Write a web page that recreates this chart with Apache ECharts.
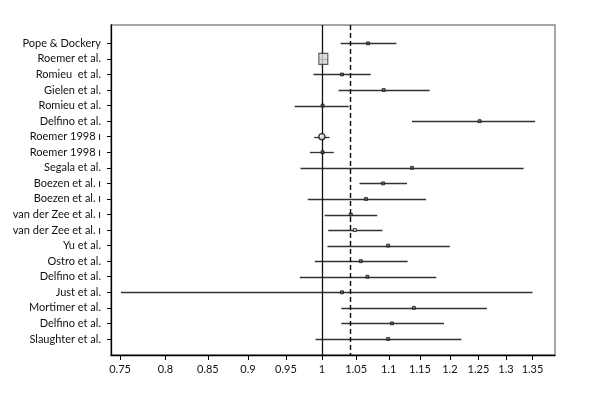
<!DOCTYPE html>
<html>
<head>
<meta charset="utf-8">
<script src="https://cdn.jsdelivr.net/npm/echarts@6/dist/echarts.min.js"></script>
<style>html,body{margin:0;padding:0;background:#fff}#c{width:594px;height:404px}</style>
</head>
<body>
<div id="c"></div>
<script>
// ---- data ----
const studies = ['Pope & Dockery','Roemer et al.','Romieu  et al.','Gielen et al.','Romieu et al.','Delfino et al.','Roemer 1998 ı','Roemer 1998 ı','Segala et al.','Boezen et al. ı','Boezen et al. ı','van der Zee et al. ı','van der Zee et al. ı','Yu et al.','Ostro et al.','Delfino et al.','Just et al.','Mortimer et al.','Delfino et al.','Slaughter et al.'];
const estimate = [1.068, 1.002, 1.029, 1.092, 1.001, 1.252, 1.000, 1.001, 1.137, 1.091, 1.065, 1.042, 1.048, 1.099, 1.057, 1.067, 1.029, 1.140, 1.105, 1.099];
const lower    = [1.027, 0.996, 0.988, 1.024, 0.962, 1.137, 0.989, 0.983, 0.970, 1.055, 0.980, 1.004, 1.009, 1.008, 0.990, 0.969, 0.751, 1.028, 1.028, 0.991];
const upper    = [1.112, 1.009, 1.072, 1.166, 1.039, 1.355, 1.011, 1.017, 1.333, 1.129, 1.160, 1.082, 1.090, 1.200, 1.130, 1.177, 1.350, 1.265, 1.190, 1.220];
const pooled = 1.045;
const nullValue = 1;
const tickValues = [0.75, 0.8, 0.85, 0.9, 0.95, 1, 1.05, 1.1, 1.15, 1.2, 1.25, 1.3, 1.35];
const tickLabels = ['0.75','0.8','0.85','0.9','0.95','1','1.05','1.1','1.15','1.2','1.25','1.3','1.35'];
const xRange = [0.7404, 1.394];

// ---- chart ----
const L = Math.log;
const font = 'Lato, "Open Sans", sans-serif';
const special = {1: 'box', 6: 'circle', 12: 'open'};
const ciData = studies.map((s, i) => [L(lower[i]), L(upper[i]), i]);
const ptData = [], boxData = [], circData = [], openData = [];
studies.forEach((s, i) => {
  const d = [L(estimate[i]), i];
  if (special[i] === 'box') boxData.push(d);
  else if (special[i] === 'circle') circData.push(d);
  else if (special[i] === 'open') openData.push(d);
  else ptData.push(d);
});

const chart = echarts.init(document.getElementById('c'), null, {renderer: 'canvas'});
chart.setOption({
  animation: false,
  backgroundColor: '#fff',
  grid: {left: 111, right: 39, top: 25, bottom: 49, show: true, borderColor: '#8a8a8a', borderWidth: 1.5, backgroundColor: 'transparent', containLabel: false},
  xAxis: {
    type: 'value', min: L(xRange[0]), max: L(xRange[1]),
    splitLine: {show: false},
    axisLine: {show: true, onZero: false, lineStyle: {color: '#000', width: 1.3}},
    axisTick: {show: true, length: 5, customValues: tickValues.map(L), lineStyle: {color: '#000'}},
    axisLabel: {
      customValues: tickValues.map(L), margin: 9, color: '#111', fontFamily: font, fontSize: 11,
      formatter: v => { const k = tickValues.findIndex(t => Math.abs(L(t) - v) < 1e-6); return k >= 0 ? tickLabels[k] : ''; }
    }
  },
  yAxis: {
    type: 'value', inverse: true, min: -1.18, max: 20.03,
    splitLine: {show: false},
    axisLine: {show: true, onZero: false, lineStyle: {color: '#000', width: 1.3}},
    axisTick: {show: true, length: 4, customValues: studies.map((s, i) => i), lineStyle: {color: '#000'}},
    axisLabel: {
      customValues: studies.map((s, i) => i), margin: 10, color: '#111', fontFamily: font, fontSize: 11,
      formatter: v => studies[Math.round(v)] || ''
    }
  },
  series: [
    {
      type: 'custom', name: 'ci', data: ciData, encode: {x: [0, 1], y: 2}, z: 3,
      renderItem: (params, api) => {
        const a = api.coord([api.value(0), api.value(2)]);
        const b = api.coord([api.value(1), api.value(2)]);
        return {type: 'line', shape: {x1: a[0], y1: Math.round(a[1]) + 0.5, x2: b[0], y2: Math.round(b[1]) + 0.5}, style: {stroke: '#333', lineWidth: 1.3}};
      },
      markLine: {
        silent: true, symbol: 'none', label: {show: false},
        data: [
          {xAxis: L(nullValue), lineStyle: {color: '#111', width: 1.3, type: 'solid'}},
          {xAxis: L(pooled), lineStyle: {color: '#000', width: 1.4, type: [5, 3]}}
        ]
      }
    },
    {type: 'scatter', data: ptData, symbol: 'rect', symbolSize: 3, itemStyle: {color: '#555', borderColor: '#000', borderWidth: 0.8}, z: 5},
    {type: 'scatter', data: openData, symbol: 'rect', symbolSize: 3, itemStyle: {color: '#fff', borderColor: '#000', borderWidth: 1}, z: 5},
    {type: 'scatter', data: circData, symbol: 'circle', symbolSize: 6, itemStyle: {color: '#fff', borderColor: '#000', borderWidth: 1.3}, z: 5},
    {type: 'scatter', data: boxData, symbol: 'rect', symbolSize: [9, 11], itemStyle: {color: '#d6d6d6', borderColor: '#333', borderWidth: 1.2}, z: 6}
  ]
});
</script>
</body>
</html>
